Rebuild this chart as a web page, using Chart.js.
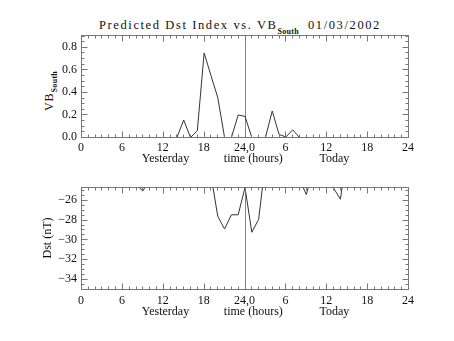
<!DOCTYPE html>
<html>
<head>
<meta charset="utf-8">
<script src="https://cdn.jsdelivr.net/npm/chart.js@4/dist/chart.umd.min.js"></script>
<style>
  body { margin: 0; background: #fff; }
  #wrap { position: relative; width: 454px; height: 341px; font-family: "Liberation Serif", serif; color: #111; }
  canvas { position: absolute; left: 0; }
  #title { position: absolute; left: 99px; top: 17px; font-size: 12.5px; letter-spacing: 1.6px; white-space: nowrap; line-height: 16px; }
  #title sub { font-size: 8px; letter-spacing: 0.3px; font-weight: bold; vertical-align: -5px; }
  #date { position: absolute; left: 308px; top: 17px; font-size: 12.5px; letter-spacing: 1.6px; line-height: 16px; }
  #vblabel { position: absolute; left: 19px; top: 83px; width: 60px; height: 16px; line-height: 16px; text-align: center;
             font-size: 12px; letter-spacing: 1px; transform: rotate(-90deg); white-space: nowrap; }
  #vblabel sub { font-size: 8px; letter-spacing: 0.3px; font-weight: bold; vertical-align: -4px; }
</style>
</head>
<body>
<div id="wrap">
  <div id="title">Predicted Dst Index vs. VB<sub>South</sub></div>
  <div id="date">01/03/2002</div>
  <div id="vblabel">VB<sub>South</sub></div>
  <canvas id="vbChart" width="454" height="170" style="top:0"></canvas>
  <canvas id="dstChart" width="454" height="171" style="top:170px"></canvas>
</div>
<script>
// hours since start of yesterday (0-24 yesterday, 24-48 today)
const hours = [0, 1, 2, 3, 4, 5, 6, 7, 8, 9, 10, 11, 12, 13, 14, 15, 16, 17, 18, 19,
               20, 21, 22, 23, 24, 25, 26, 27, 28, 29, 30, 31, 32, 33, 34, 35, 36, 37, 38, 39];
const vbSouth = [0, 0, 0, 0, 0, 0, 0, 0, 0, 0, 0, 0, 0, 0, 0, 0.155, 0, 0.06, 0.75, 0.55,
                 0.355, 0, 0, 0.2, 0.187, 0, 0, 0, 0.235, 0.027, 0.005, 0.068, 0, 0, 0, 0, 0, 0, 0, 0];
const dst = [-23.8, -23.6, -23.5, -23.7, -23.9, -24.1, -24.0, -24.2, -24.43, -25.07,
             -23.94, -23.8, -23.6, -23.4, -23.2, -23.0, -22.9, -23.1, -23.3, -23.47,
             -27.62, -28.9, -27.47, -27.47, -24.73, -29.23, -27.93, -22.2, -22.0, -22.4,
             -23.0, -23.6, -23.87, -25.43, -23.02, -23.5, -24.2, -24.78, -25.9, -21.2];

const xTicks = [0, 6, 12, 18, 24, 30, 36, 42, 48];
const vbTicks = [0, 0.2, 0.4, 0.6, 0.8];
const dstTicks = [-34, -32, -30, -28, -26];
const dayLabels = ['Yesterday', 'time (hours)', 'Today'];

const FONT = "'Liberation Serif', serif";
const axisColor = '#777';
const lineColor = '#333';

function hourLabel(v) {
    if (v === 24) return '24,0';
    return String(v > 24 ? v - 24 : v);
}

// IDL-style box with inward ticks, the midnight divider and the day labels
const boxPlugin = {
    id: 'box',
    beforeDatasetsDraw(chart, args, opts) {
        const { ctx, chartArea: a, scales: { x } } = chart;
        const xd = Math.round(x.getPixelForValue(24)) + 0.5;
        ctx.save();
        ctx.strokeStyle = '#888';
        ctx.lineWidth = 1;
        ctx.beginPath();
        ctx.moveTo(xd, a.top);
        ctx.lineTo(xd, a.bottom);
        ctx.stroke();
        ctx.restore();
        // half-pixel shift so the data line sits on whole pixel rows
        ctx.save();
        ctx.translate(0.5, 0.5);
    },
    afterDatasetsDraw(chart, args, opts) {
        const { ctx, chartArea: a, scales: { x, y } } = chart;
        ctx.restore();
        const L = Math.round(a.left) + 0.5, R = Math.round(a.right) + 0.5;
        const T = Math.round(a.top) + 0.5, B = Math.round(a.bottom) + 0.5;
        ctx.save();
        ctx.strokeStyle = axisColor;
        ctx.lineWidth = 1;
        ctx.strokeRect(L, T, R - L, B - T);
        ctx.beginPath();
        for (let h = 0; h <= 48; h++) {
            const px = Math.round(x.getPixelForValue(h)) + 0.5;
            const len = h % 6 === 0 ? 6 : 3;
            ctx.moveTo(px, B); ctx.lineTo(px, B - len);
            ctx.moveTo(px, T); ctx.lineTo(px, T + len);
        }
        const k0 = Math.ceil(y.min / opts.yMinor - 1e-6), k1 = Math.floor(y.max / opts.yMinor + 1e-6);
        for (let k = k0; k <= k1; k++) {
            const v = k * opts.yMinor;
            const py = Math.round(y.getPixelForValue(v)) + 0.5;
            const major = Math.abs(v / opts.yMajor - Math.round(v / opts.yMajor)) < 1e-6;
            const len = major ? 6 : 3;
            ctx.moveTo(L, py); ctx.lineTo(L + len, py);
            ctx.moveTo(R, py); ctx.lineTo(R - len, py);
        }
        ctx.stroke();
        ctx.fillStyle = '#111';
        ctx.font = '12px ' + FONT;
        ctx.textAlign = 'center';
        ctx.textBaseline = 'middle';
        opts.labelAt.forEach((h, i) => {
            ctx.fillText(dayLabels[i], x.getPixelForValue(h), a.bottom + opts.labelGap);
        });
        ctx.restore();
    }
};

function makeChart(id, values, yMin, yMax, yTicks, yFmt, opts) {
    const ctx = document.getElementById(id).getContext('2d');
    return new Chart(ctx, {
        type: 'line',
        data: {
            datasets: [{
                data: hours.map((h, i) => ({ x: h, y: values[i] })),
                borderColor: lineColor,
                borderWidth: 1,
                pointRadius: 0,
                tension: 0,
                fill: false
            }]
        },
        options: {
            responsive: false,
            animation: false,
            devicePixelRatio: 1,
            layout: { padding: { top: opts.padTop, right: 46, left: 0, bottom: 0 } },
            plugins: {
                legend: { display: false },
                tooltip: { enabled: false },
                box: { yMinor: opts.yMinor, yMajor: opts.yMajor, labelAt: [12.4, 25.3, 37.2], labelGap: opts.labelGap }
            },
            scales: {
                x: {
                    type: 'linear',
                    min: 0,
                    max: 48,
                    grid: { display: false, tickLength: 0 },
                    border: { display: false },
                    afterBuildTicks: s => { s.ticks = xTicks.map(v => ({ value: v })); },
                    afterFit: s => { s.height = opts.xHeight; },
                    ticks: {
                        color: '#111',
                        padding: opts.xPad,
                        maxRotation: 0,
                        autoSkip: false,
                        font: { family: FONT, size: 12 },
                        callback: v => hourLabel(v)
                    }
                },
                y: {
                    min: yMin,
                    max: yMax,
                    grid: { display: false, tickLength: 0 },
                    border: { display: false },
                    afterBuildTicks: s => { s.ticks = yTicks.map(v => ({ value: v })); },
                    afterFit: s => { s.width = 81; },
                    ticks: {
                        color: '#111',
                        padding: 4,
                        font: { family: FONT, size: 12 },
                        callback: v => yFmt(v)
                    },
                    title: opts.yTitle ? {
                        display: true,
                        text: opts.yTitle,
                        color: '#111',
                        font: { family: FONT, size: 12 },
                        padding: { top: 41, bottom: 0 }
                    } : { display: false }
                }
            }
        },
        plugins: [boxPlugin]
    });
}

makeChart('vbChart', vbSouth, 0, 0.905, vbTicks, v => v.toFixed(1),
    { padTop: 35, xHeight: 33, yMinor: 0.05, yMajor: 0.2, xPad: 4, labelGap: 22 });
makeChart('dstChart', dst, -35, -24.72, dstTicks, v => '\u2212' + Math.abs(v),
    { padTop: 17, xHeight: 52, yMinor: 0.5, yMajor: 2, yTitle: 'Dst (nT)', xPad: 5, labelGap: 23 });
</script>
</body>
</html>
